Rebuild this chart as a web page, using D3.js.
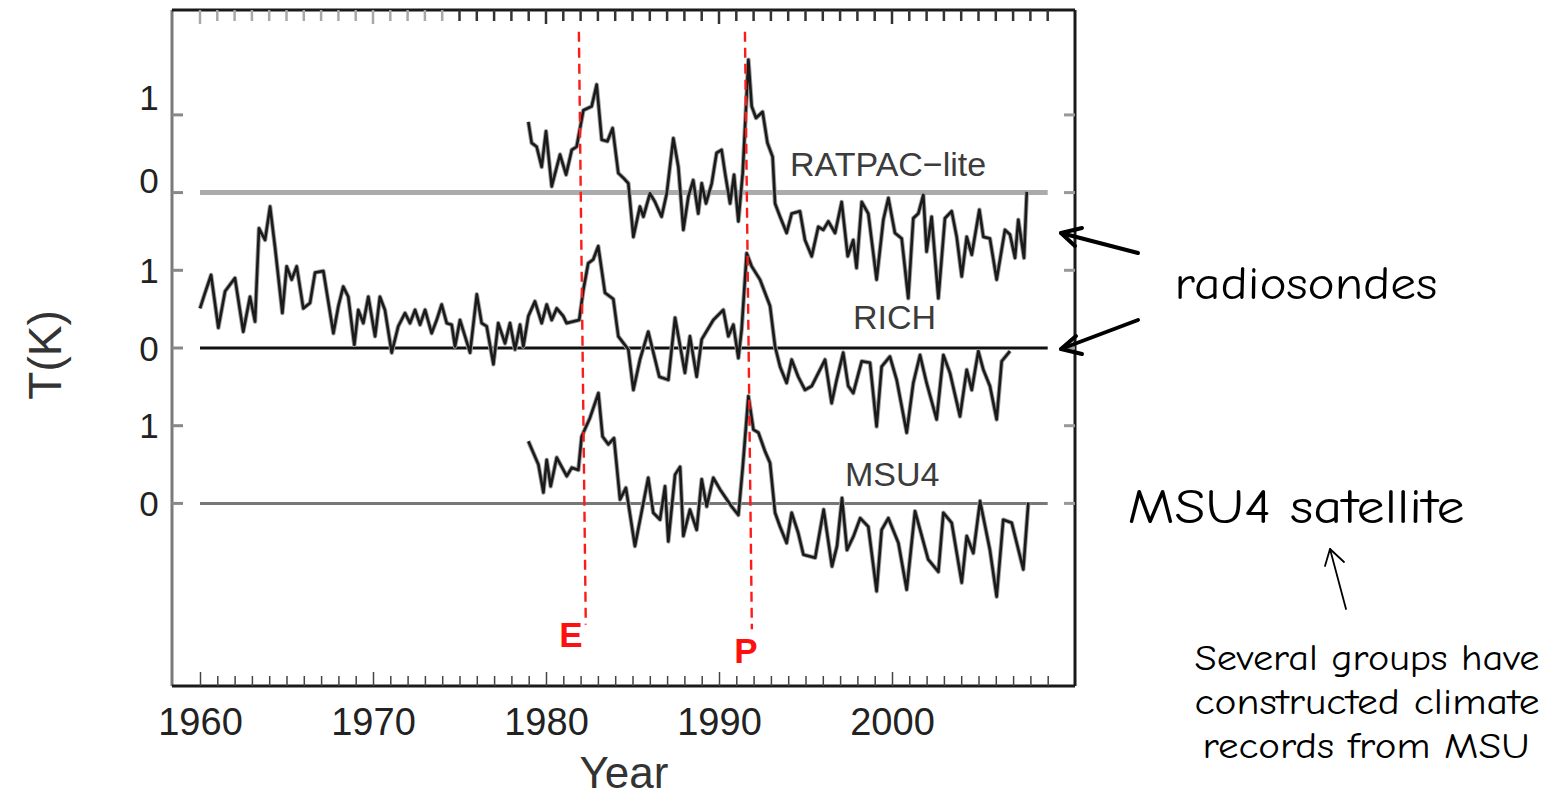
<!DOCTYPE html>
<html>
<head>
<meta charset="utf-8">
<script src="https://cdn.jsdelivr.net/npm/d3@7"></script>
<style>
  body { margin: 0; background: #fff; }
</style>
</head>
<body>
<script>
    // Data (anomalies in K)
    let ratpacYears = [1978.98, 1979.17, 1979.46, 1979.75, 1980.0, 1980.33, 1980.81, 1981.16, 1981.49, 1981.77, 1982.16, 1982.64, 1982.93, 1983.22, 1983.55, 1983.85, 1984.18, 1984.47, 1984.76, 1985.05, 1985.43, 1985.63, 1986.01, 1986.3, 1986.68, 1986.98, 1987.36, 1987.65, 1987.94, 1988.23, 1988.51, 1988.8, 1989.0, 1989.25, 1989.58, 1989.86, 1990.15, 1990.35, 1990.64, 1990.87, 1991.12, 1991.37, 1991.7, 1991.89, 1992.14, 1992.52, 1992.8, 1993.1, 1993.24, 1993.53, 1993.91, 1994.2, 1994.68, 1994.97, 1995.36, 1995.74, 1996.03, 1996.32, 1996.71, 1997.09, 1997.44, 1997.76, 1997.95, 1998.25, 1998.63, 1999.11, 1999.5, 1999.79, 2000.17, 2000.56, 2000.94, 2001.23, 2001.52, 2001.81, 2002.0, 2002.29, 2002.68, 2003.06, 2003.45, 2003.74, 2004.03, 2004.32, 2004.61, 2005.05, 2005.28, 2005.66, 2006.05, 2006.53, 2006.82, 2007.11, 2007.3, 2007.63, 2007.79];
    let ratpacT = [0.91, 0.64, 0.59, 0.33, 0.79, 0.08, 0.49, 0.23, 0.55, 0.59, 1.06, 1.11, 1.39, 0.68, 0.66, 0.83, 0.25, 0.19, 0.12, -0.57, -0.18, -0.31, -0.01, -0.12, -0.31, -0.01, 0.70, 0.33, -0.48, -0.05, 0.16, -0.27, 0.12, -0.14, 0.12, 0.51, 0.55, 0.25, -0.14, 0.23, -0.37, 0.25, 1.71, 1.11, 0.96, 1.04, 0.64, 0.46, -0.14, -0.31, -0.52, -0.27, -0.24, -0.61, -0.82, -0.44, -0.48, -0.37, -0.52, -0.12, -0.82, -0.61, -0.97, -0.12, -0.27, -1.12, -0.35, -0.07, -0.52, -0.59, -1.36, -0.33, -0.27, -0.03, -0.76, -0.31, -1.36, -0.33, -0.24, -0.57, -1.08, -0.57, -0.80, -0.22, -0.57, -0.59, -1.12, -0.48, -0.54, -0.84, -0.35, -0.84, 0.01];

    let richYears = [1960.0, 1960.29, 1960.64, 1961.06, 1961.45, 1962.02, 1962.5, 1962.89, 1963.18, 1963.41, 1963.76, 1964.05, 1964.34, 1964.76, 1965.01, 1965.3, 1965.59, 1965.97, 1966.36, 1966.65, 1967.13, 1967.71, 1968.0, 1968.28, 1968.57, 1968.92, 1969.15, 1969.44, 1969.73, 1970.12, 1970.4, 1970.69, 1971.08, 1971.46, 1971.85, 1972.14, 1972.43, 1972.72, 1973.01, 1973.39, 1973.68, 1973.97, 1974.26, 1974.55, 1974.74, 1975.03, 1975.32, 1975.61, 1976.0, 1976.28, 1976.57, 1976.96, 1977.24, 1977.63, 1977.92, 1978.21, 1978.5, 1978.69, 1978.98, 1979.36, 1979.75, 1980.04, 1980.33, 1980.62, 1981.0, 1981.19, 1981.92, 1982.16, 1982.44, 1982.73, 1983.02, 1983.41, 1983.89, 1984.18, 1984.76, 1985.05, 1985.43, 1985.91, 1986.55, 1987.07, 1987.46, 1988.03, 1988.32, 1988.71, 1989.0, 1989.67, 1990.25, 1990.54, 1990.83, 1991.12, 1991.31, 1991.6, 1991.89, 1992.37, 1992.95, 1993.24, 1993.53, 1993.91, 1994.2, 1994.58, 1994.97, 1995.36, 1996.13, 1996.51, 1996.8, 1997.18, 1997.47, 1997.76, 1998.25, 1998.73, 1999.11, 1999.4, 1999.88, 2000.27, 2000.85, 2001.23, 2001.62, 2002.0, 2002.58, 2002.97, 2003.35, 2003.93, 2004.32, 2004.61, 2004.99, 2005.28, 2005.66, 2006.05, 2006.34, 2006.82];
    let richT = [0.51, 0.71, 0.94, 0.26, 0.73, 0.90, 0.21, 0.66, 0.34, 1.54, 1.39, 1.82, 1.29, 0.45, 1.05, 0.88, 1.05, 0.51, 0.58, 0.97, 0.99, 0.19, 0.54, 0.79, 0.66, 0.04, 0.49, 0.32, 0.66, 0.15, 0.66, 0.49, -0.06, 0.28, 0.45, 0.32, 0.49, 0.30, 0.49, 0.19, 0.36, 0.56, 0.32, 0.30, 0.02, 0.36, 0.15, -0.06, 0.69, 0.32, 0.28, -0.21, 0.32, 0.06, 0.32, -0.02, 0.30, 0.02, 0.41, 0.60, 0.32, 0.56, 0.36, 0.51, 0.41, 0.32, 0.36, 0.75, 1.09, 1.14, 1.31, 0.71, 0.63, 0.15, -0.02, -0.54, -0.15, 0.21, -0.37, -0.41, 0.39, -0.32, 0.15, -0.37, 0.11, 0.36, 0.49, 0.15, 0.30, -0.13, 0.24, 1.22, 1.05, 0.88, 0.54, 0.02, -0.24, -0.45, -0.15, -0.37, -0.54, -0.49, -0.15, -0.71, -0.41, -0.06, -0.49, -0.58, -0.17, -0.19, -1.01, -0.24, -0.11, -0.41, -1.09, -0.45, -0.09, -0.45, -0.92, -0.09, -0.32, -0.88, -0.28, -0.54, -0.04, -0.28, -0.49, -0.92, -0.17, -0.04];

    let msuYears = [1978.98, 1979.56, 1979.85, 1980.04, 1980.27, 1980.62, 1981.2, 1981.49, 1981.87, 1982.06, 1982.54, 1983.03, 1983.27, 1983.6, 1983.93, 1984.28, 1984.62, 1985.14, 1985.91, 1986.2, 1986.59, 1986.88, 1987.07, 1987.46, 1987.75, 1987.94, 1988.32, 1988.71, 1989.0, 1989.29, 1989.67, 1990.06, 1990.73, 1991.12, 1991.37, 1991.7, 1991.99, 1992.28, 1992.66, 1992.95, 1993.24, 1993.53, 1993.91, 1994.2, 1994.58, 1994.88, 1995.56, 1996.05, 1996.53, 1996.82, 1997.11, 1997.4, 1997.78, 1998.16, 1998.63, 1999.11, 1999.4, 1999.79, 2000.37, 2000.85, 2001.33, 2002.09, 2002.68, 2002.97, 2003.45, 2004.03, 2004.32, 2004.7, 2005.09, 2005.66, 2006.05, 2006.43, 2006.92, 2007.59, 2007.88];
    let msuT = [0.80, 0.50, 0.14, 0.56, 0.22, 0.59, 0.35, 0.46, 0.43, 0.86, 1.10, 1.42, 0.86, 0.76, 0.84, 0.05, 0.20, -0.55, 0.33, -0.12, -0.21, 0.22, -0.49, 0.37, 0.47, -0.42, -0.08, -0.34, 0.31, -0.04, 0.33, 0.18, -0.04, -0.15, 0.46, 1.38, 0.95, 0.91, 0.67, 0.52, -0.12, -0.30, -0.51, -0.12, -0.38, -0.66, -0.70, -0.08, -0.81, -0.55, 0.07, -0.60, -0.42, -0.19, -0.30, -1.13, -0.34, -0.19, -0.51, -1.11, -0.10, -0.72, -0.88, -0.12, -0.25, -1.02, -0.42, -0.64, 0.03, -0.60, -1.20, -0.21, -0.25, -0.85, 0.01];

    let seriesNames = ["RATPAC\u2212lite", "RICH", "MSU4"];
    let seriesOffsets = [2, 0, -2];
    let decadeLabels = [1960, 1970, 1980, 1990, 2000];
    let eruptionNames = ["E", "P"];
    let eruptionYears = [1981.9, 1991.5];

    // Set up SVG
    let width = 1560, height = 798;
    let plot = { left: 172, right: 1075, top: 10, bottom: 686 };

    let svg = d3.select("body")
        .append("svg")
        .attr("width", width)
        .attr("height", height)
        .style("font-family", "'Liberation Sans', Arial, sans-serif");

    let x = d3.scaleLinear().domain([1960, 2010]).range([200, 1065]);
    let y = d3.scaleLinear().domain([-4.35, 4.35]).range([plot.bottom, plot.top]);

    // Zero lines
    let zeroStyles = [
        { stroke: "#ababab", width: 5 },
        { stroke: "#111", width: 3 },
        { stroke: "#777", width: 3 }
    ];
    seriesOffsets.forEach((off, i) => {
        svg.append("line")
            .attr("x1", x(1960)).attr("x2", x(2009))
            .attr("y1", y(off)).attr("y2", y(off))
            .attr("stroke", zeroStyles[i].stroke)
            .attr("stroke-width", zeroStyles[i].width);
    });

    // Series lines
    let allSeries = [
        { years: ratpacYears, vals: ratpacT },
        { years: richYears, vals: richT },
        { years: msuYears, vals: msuT }
    ];
    allSeries.forEach((s, i) => {
        let pts = s.years.map((yr, j) => [yr, s.vals[j] + seriesOffsets[i]]);
        let line = d3.line().x(d => x(d[0])).y(d => y(d[1]));
        svg.append("path")
            .attr("d", line(pts))
            .attr("fill", "none")
            .attr("stroke", "#a0a0a0")
            .attr("stroke-width", 4.5)
            .attr("stroke-linejoin", "round");
        svg.append("path")
            .attr("d", line(pts))
            .attr("fill", "none")
            .attr("stroke", "#1a1a1a")
            .attr("stroke-width", 2.6)
            .attr("stroke-linejoin", "round");
    });

    // Series labels
    let labelPos = [[790, 0.22], [853, 0.25], [845, 0.23]];
    seriesNames.forEach((name, i) => {
        svg.append("text")
            .attr("x", labelPos[i][0])
            .attr("y", y(seriesOffsets[i] + labelPos[i][1]))
            .attr("font-size", 34)
            .attr("fill", "#3c3c3c")
            .text(name);
    });

    // Eruption markers
    eruptionYears.forEach((yr, i) => {
        let bottomVal = i === 0 ? -3.56 : -3.62;
        svg.append("line")
            .attr("x1", x(yr)).attr("y1", y(4.07))
            .attr("x2", x(yr + 0.4)).attr("y2", y(bottomVal))
            .attr("stroke", "#ff1a1a")
            .attr("stroke-width", 2.4)
            .attr("stroke-dasharray", "10,6");
        svg.append("text")
            .attr("x", x(yr) - (i === 0 ? 8 : -1))
            .attr("y", i === 0 ? 647 : 663)
            .attr("text-anchor", "middle")
            .attr("font-size", 35)
            .attr("font-weight", "bold")
            .attr("fill", "#ff1010")
            .text(eruptionNames[i]);
    });

    // Frame
    svg.append("line").attr("x1", plot.left).attr("x2", plot.left)
        .attr("y1", plot.top).attr("y2", plot.bottom)
        .attr("stroke", "#7a7a7a").attr("stroke-width", 3);
    svg.append("line").attr("x1", plot.left).attr("x2", plot.right)
        .attr("y1", plot.top).attr("y2", plot.top)
        .attr("stroke", "#1a1a1a").attr("stroke-width", 3);
    svg.append("line").attr("x1", plot.right).attr("x2", plot.right)
        .attr("y1", plot.top).attr("y2", plot.bottom)
        .attr("stroke", "#1a1a1a").attr("stroke-width", 3);

    // Bottom axis
    let years = d3.range(1960, 2010);
    let xAxis = d3.axisBottom(x)
        .tickValues(years)
        .tickSize(-11)
        .tickPadding(22)
        .tickFormat(d => decadeLabels.includes(d) ? d : "");
    let gx = svg.append("g")
        .attr("transform", `translate(0,${plot.bottom})`)
        .call(xAxis);
    gx.select(".domain")
        .attr("d", `M${plot.left},0H${plot.right}`)
        .attr("stroke", "#1a1a1a").attr("stroke-width", 3);
    gx.selectAll(".tick line")
        .attr("stroke", "#444").attr("stroke-width", 1.5)
        .attr("y2", d => d % 10 === 0 ? -14 : -10);
    gx.selectAll(".tick text")
        .attr("font-size", 38)
        .attr("fill", "#222")
        .style("font-family", "'Liberation Sans', Arial, sans-serif");

    // Top ticks
    svg.append("g").selectAll("line")
        .data(years)
        .enter()
        .append("line")
        .attr("x1", d => x(d)).attr("x2", d => x(d))
        .attr("y1", plot.top).attr("y2", d => plot.top + (d % 10 === 0 ? 14 : 11))
        .attr("stroke", d => d < 1975 ? "#a8a8a8" : "#333")
        .attr("stroke-width", 2.5);

    // Y ticks and labels
    let yTicks = [];
    seriesOffsets.forEach((off, i) => {
        yTicks.push({ v: off + 1, label: "1", shift: i === 0 ? -17 : 0 });
        yTicks.push({ v: off, label: "0", shift: i === 0 ? -12 : 0 });
    });
    yTicks.forEach(t => {
        svg.append("line")
            .attr("x1", plot.left).attr("x2", plot.left + 11)
            .attr("y1", y(t.v)).attr("y2", y(t.v))
            .attr("stroke", "#888").attr("stroke-width", 3);
        svg.append("line")
            .attr("x1", plot.right - 11).attr("x2", plot.right)
            .attr("y1", y(t.v)).attr("y2", y(t.v))
            .attr("stroke", "#999").attr("stroke-width", 3);
        svg.append("text")
            .attr("x", 149)
            .attr("y", y(t.v) + t.shift)
            .attr("dy", "0.36em")
            .attr("text-anchor", "middle")
            .attr("font-size", 35)
            .attr("fill", "#222")
            .text(t.label);
    });

    // Axis titles
    svg.append("text")
        .attr("x", 624).attr("y", 788)
        .attr("text-anchor", "middle")
        .attr("font-size", 44)
        .attr("fill", "#333")
        .text("Year");
    svg.append("text")
        .attr("transform", "translate(61,355) rotate(-90)")
        .attr("text-anchor", "middle")
        .attr("font-size", 46)
        .attr("fill", "#333")
        .text("T(K)");

    // Annotations
    let handFont = "'Comic Sans MS', 'Comic Neue', 'Noto Sans', sans-serif";
    let ann = svg.append("g").style("font-family", handFont).attr("fill", "#000");
    let annTexts = [
        { t: "radiosondes", x: 1306, y: 299, size: 46, w: 263 },
        { t: "MSU4 satellite", x: 1296, y: 523, size: 48, w: 337 },
        { t: "Several groups have", x: 1367, y: 670, size: 36, w: 345 },
        { t: "constructed climate", x: 1367, y: 714, size: 36, w: 345 },
        { t: "records from MSU", x: 1366, y: 758, size: 36, w: 327 }
    ];
    annTexts.forEach(a => {
        ann.append("text")
            .attr("x", a.x).attr("y", a.y)
            .attr("text-anchor", "middle")
            .attr("font-size", a.size)
            .attr("textLength", a.w)
            .attr("lengthAdjust", "spacingAndGlyphs")
            .text(a.t);
    });

    let arrows = [
        { from: [1138, 253], to: [1061, 233], w: 4, head: [[1082, 228], [1075, 246]] },
        { from: [1138, 320], to: [1061, 349], w: 4, head: [[1076, 336], [1082, 354]] },
        { from: [1346, 609], to: [1330, 549], w: 1.8, head: [[1325, 566], [1344, 562]] }
    ];
    arrows.forEach(a => {
        ann.append("line")
            .attr("x1", a.from[0]).attr("y1", a.from[1])
            .attr("x2", a.to[0]).attr("y2", a.to[1])
            .attr("stroke", "#000").attr("stroke-width", a.w)
            .attr("stroke-linecap", "round");
        ann.append("path")
            .attr("d", `M${a.head[0][0]},${a.head[0][1]}L${a.to[0]},${a.to[1]}L${a.head[1][0]},${a.head[1][1]}`)
            .attr("fill", "none")
            .attr("stroke", "#000").attr("stroke-width", a.w)
            .attr("stroke-linecap", "round").attr("stroke-linejoin", "round");
    });
</script>
</body>
</html>
